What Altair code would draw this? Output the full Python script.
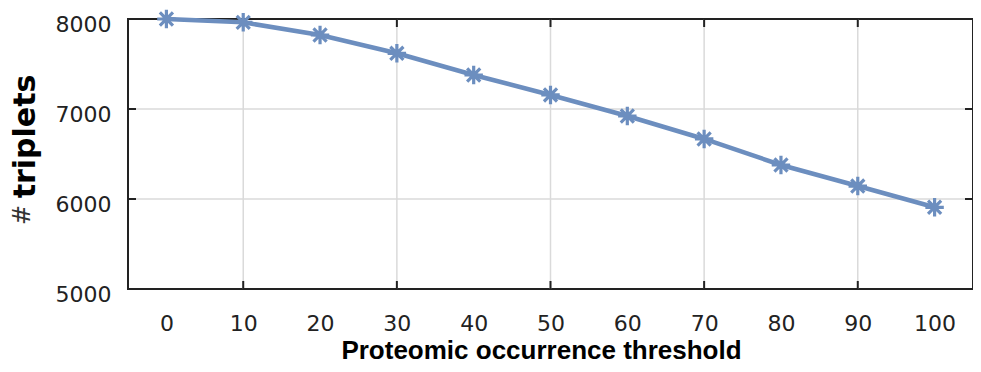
import altair as alt
import pandas as pd

thresholds = [0, 10, 20, 30, 40, 50, 60, 70, 80, 90, 100]
triplets = [8000, 7963, 7822, 7619, 7378, 7156, 6922, 6667, 6378, 6144, 5908]
x_labels = [0, 10, 20, 30, 40, 50, 60, 70, 80, 90, 100]
y_labels = [5000, 6000, 7000, 8000]
x_grid = [10, 30, 50, 70, 90]
y_grid = [6000, 7000]

COLOR = "#6c8ebf"
W, H = 845, 270

df = pd.DataFrame({"t": thresholds, "n": triplets})
xg = pd.DataFrame({"t": x_grid})
yg = pd.DataFrame({"n": y_grid})

xscale = alt.Scale(domain=[-5, 105], nice=False, zero=False)
yscale = alt.Scale(domain=[5000, 8000], nice=False, zero=False)

asterisk = "M-1,0L1,0M0,-1L0,1M-0.71,-0.71L0.71,0.71M-0.71,0.71L0.71,-0.71"

xaxis = alt.Axis(
    values=x_labels, grid=False, ticks=False, domain=False, format="d",
    labelFont="DejaVu Sans", labelFontSize=22, labelColor="#222",
    labelBaseline="alphabetic", labelPadding=41, labelFlush=False,
    title="Proteomic occurrence threshold", titleFont="Liberation Sans",
    titleFontWeight="bold", titleFontSize=26, titleColor="#000",
    titleX=413, titleY=69, titleAlign="center", titleBaseline="alphabetic",
)
yaxis = alt.Axis(
    values=y_labels, grid=False, ticks=False, domain=False, format="d",
    labelFont="DejaVu Sans", labelFontSize=22, labelColor="#222",
    labelBaseline="middle", labelOffset=5, labelPadding=17, labelFlush=False,
    title="triplets", titleFont="DejaVu Sans", titleFontWeight="bold",
    titleFontSize=30, titleColor="#000", titleAngle=270,
    titleX=-103, titleY=117, titleAlign="center", titleBaseline="middle",
)

X = alt.X("t:Q", scale=xscale, axis=xaxis)
Y = alt.Y("n:Q", scale=yscale, axis=yaxis)

gridx = alt.Chart(xg).mark_rule(color="#dadada", strokeWidth=1.5).encode(x=X)
gridy = alt.Chart(yg).mark_rule(color="#dadada", strokeWidth=1.5).encode(y=Y)

tick_style = dict(color="#222", strokeWidth=2)
tb = alt.Chart(xg).mark_rule(**tick_style).encode(x=X, y=alt.value(H - 8), y2=alt.value(H))
tt = alt.Chart(xg).mark_rule(**tick_style).encode(x=X, y=alt.value(0), y2=alt.value(8))
tl = alt.Chart(yg).mark_rule(**tick_style).encode(y=Y, x=alt.value(0), x2=alt.value(8))
tr = alt.Chart(yg).mark_rule(**tick_style).encode(y=Y, x=alt.value(W - 8), x2=alt.value(W))

base = alt.Chart(df).encode(x=X, y=Y)
line = base.mark_line(color=COLOR, strokeWidth=4.5)
pts = base.mark_point(shape=asterisk, filled=False, size=340, strokeWidth=3.2,
                      color=COLOR, opacity=1)

hash_mark = alt.Chart(pd.DataFrame({"s": ["#"]})).mark_text(
    font="DejaVu Sans", fontSize=24, color="#333", angle=270,
    align="center", baseline="middle",
).encode(text="s:N", x=alt.value(-105), y=alt.value(196))

chart = alt.layer(gridx, gridy, tb, tt, tl, tr, line, pts, hash_mark).properties(
    width=W, height=H,
    background="white",
    autosize=alt.AutoSizeParams(type="none"),
    padding={"left": 120, "top": 11, "right": 0, "bottom": 75},
).configure_view(stroke="#222", strokeWidth=2)

chart.save("out.html", embed_options={"renderer": "svg", "actions": False})
